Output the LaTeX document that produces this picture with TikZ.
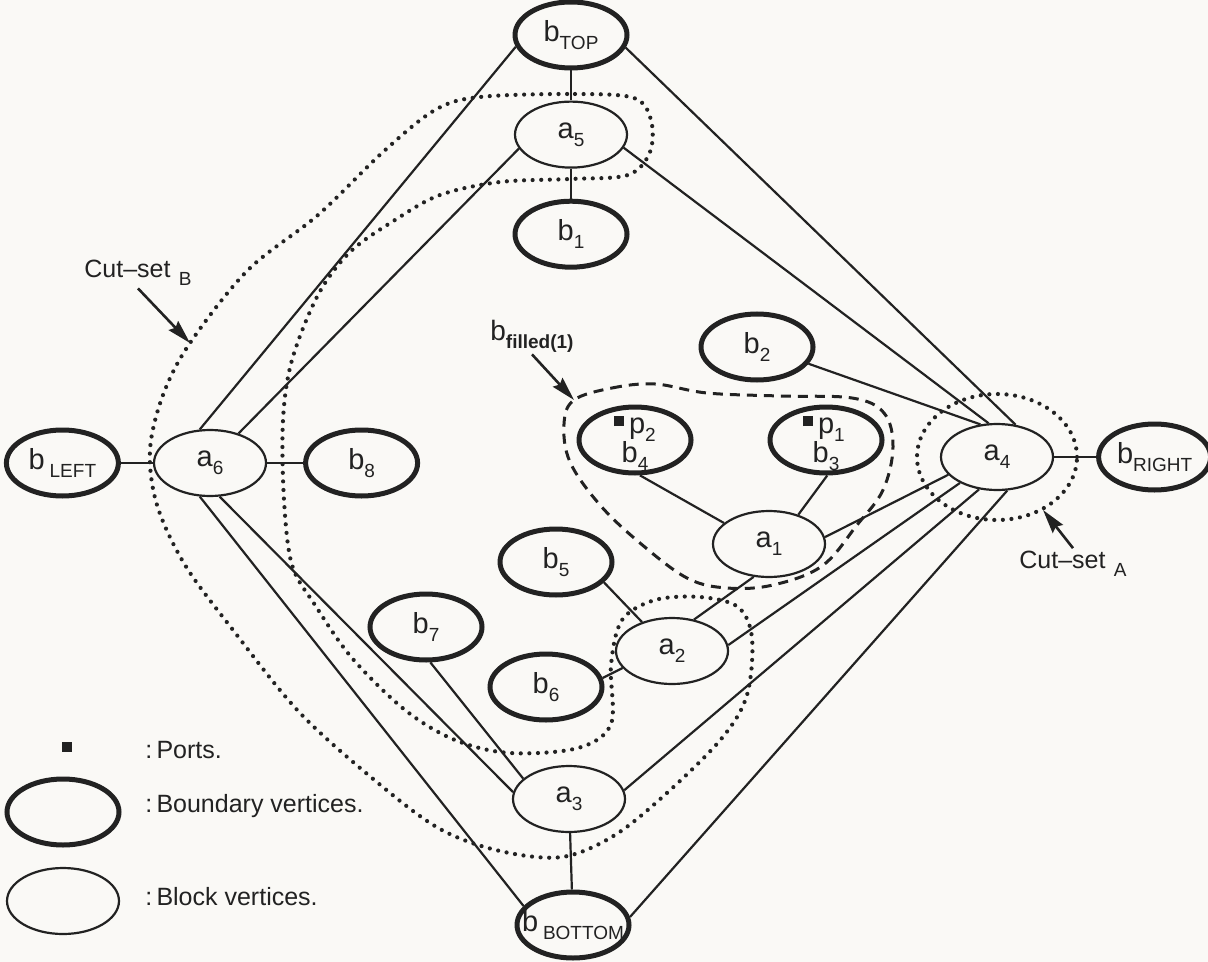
\documentclass[tikz,border=0pt]{standalone}
\usepackage{fontspec}
\setmainfont{Liberation Sans}
\usepackage{tikz}
\usetikzlibrary{arrows.meta, positioning, shapes.geometric}
\definecolor{Ink}{RGB}{34,34,34}
\definecolor{Paper}{RGB}{250,249,246}
\newcommand{\vsub}[1]{\raisebox{-4pt}{\fontsize{9.5}{11}\selectfont #1}}
\newcommand{\portmark}{\rule[3.5pt]{5pt}{5pt}}

\begin{document}
\begin{tikzpicture}[
  x=0.5pt, y=-0.5pt,
  node distance=15pt,
  every node/.style={font=\fontsize{14.5}{16}\selectfont, text=Ink},
  vert/.style={ellipse, draw=Ink, fill=Paper, minimum width=56pt,
               minimum height=33pt, inner sep=0pt},
  block/.style={vert, line width=1.1pt},
  bound/.style={vert, line width=2.5pt},
  edge/.style={draw=Ink, line width=1.1pt},
  cutdots/.style={draw=Ink, line width=2.1pt, line cap=round,
                  dash pattern=on 0pt off 4.3pt},
  filldash/.style={draw=Ink, line width=1.5pt, dash pattern=on 5pt off 3.5pt},
  pointer/.style={-{Stealth[length=12pt, width=6.5pt, inset=1.5pt]}, draw=Ink, line width=1.3pt},
  tag/.style={font=\fontsize{12.5}{14}\selectfont, inner sep=1pt}
]
\fill[Paper] (0,0) rectangle (1208,962);
\useasboundingbox (0,0) rectangle (1208,962);

% cut-set B: band from a5 down the left side to a2
\draw[cutdots] plot[smooth cycle, tension=0.55] coordinates {
  (480,97) (575,94) (634,98) (651,120) (650,152) (628,175) (570,179)
  (500,182) (440,195) (395,220) (350,252) (318,295) (292,360) (283,420)
  (284,500) (292,565) (315,605) (352,658) (405,710) (455,740) (510,753)
  (578,748) (611,724) (611,665) (622,620) (655,600) (700,597) (738,607)
  (752,638) (747,695) (722,738) (668,792) (615,835) (562,857) (500,851)
  (440,829) (378,783) (300,713) (233,630) (185,565) (157,505) (150,450)
  (163,395) (190,343) (248,270) (318,215) (383,152) (435,110)};
% filled block
\draw[filldash] plot[smooth cycle, tension=0.6] coordinates {
  (574,400) (612,388) (655,384) (707,393) (780,396) (852,398) (884,413)
  (893,447) (883,490) (857,525) (822,566) (773,585) (727,588) (687,578)
  (640,543) (600,505) (570,462) (564,424)};

\node[bound] (bTOP) at (571,35) {b\vsub{TOP}};
\node[block, below=of bTOP] (a5) {a\vsub{5}};
\node[bound, below=of a5] (b1) {b\vsub{1}};
\node[block] (a6) at (210,463) {a\vsub{6}};
\node[bound, left=16pt of a6] (bLEFT) {b\,\vsub{LEFT}};
\node[bound, right=18pt of a6] (b8) {b\vsub{8}};
\node[block] (a4) at (997,457) {a\vsub{4}};
\node[bound, right=21pt of a4] (bRIGHT) {b\vsub{RIGHT}};
\node[bound] (b2) at (757,347) {b\vsub{2}};
\node[bound, text height=22pt, text depth=0pt] (b4) at (635,440) {b\vsub{4}};
\node[bound, text height=22pt, text depth=0pt] (b3) at (826,440) {b\vsub{3}};
\node[anchor=base] (p2) at (635,433) {\portmark\,p\vsub{2}};
\node[anchor=base] (p1) at (824,433) {\portmark\,p\vsub{1}};
\node[block] (a1) at (769,544) {a\vsub{1}};
\node[bound] (b5) at (556,562) {b\vsub{5}};
\node[bound] (b7) at (426,627) {b\vsub{7}};
\node[block] (a2) at (672,651) {a\vsub{2}};
\node[bound] (b6) at (546,687) {b\vsub{6}};
\node[block] (a3) at (569,799) {a\vsub{3}};
\node[bound, inner xsep=-7pt] (bBOTTOM) at (573,925) {b\,\vsub{BOTTOM}};

\draw[edge] (bTOP) -- (a5);
\draw[edge] (a5) -- (b1);
\draw[edge] (bTOP.192) -- (a6.107);
\draw[edge] (a5.195) -- (a6.46);
\draw[edge] (bTOP.-13) -- (a4.60);
\draw[edge] (a5.-14) -- (a4.104);
\draw[edge] (b2.-18) -- (a4.117);
\draw[edge] (b4.-82) -- (a1.155);
\draw[edge] (b3.-88) -- (a1.45);
\draw[edge] (a1.7) -- (a4.200);
\draw[edge] (b5.-23) -- (a2.136);
\draw[edge] (b6.9) -- (a2.199);
\draw[edge] (a2.55) -- (a1.245);
\draw[edge] (a2.6) -- (a4.215);
\draw[edge] (a6.253) -- (bBOTTOM.159);
\draw[edge] (a6.286) -- (a3.173);
\draw[edge] (b7.-83) -- (a3.156);
\draw[edge] (a3) -- (bBOTTOM);
\draw[edge] (a3.9) -- (a4.241);
\draw[edge] (bBOTTOM.8) -- (a4.287);
\draw[edge] (bLEFT) -- (a6);
\draw[edge] (a6) -- (b8);
\draw[edge] (a4) -- (bRIGHT);

% cut-set A round a4
\draw[cutdots] (a4) ellipse [x radius=40pt, y radius=31.5pt];

\node[tag, anchor=base west] (cutB) at (82,278) {Cut--set\,\,\vsub{B}};
\node[tag, anchor=base west] (cutA) at (1017,568) {Cut--set\,\,\vsub{A}};
\node[tag, anchor=base west, font=\fontsize{14}{16}\selectfont] (bfill) at (488,340) {b\vsub{\bfseries filled(1)}};
\coordinate (cutBtip) at (190,343);
\coordinate (cutAtip) at (1043,510);
\coordinate (filltip) at (574,400);
\draw[pointer] (cutB.south) -- (cutBtip);
\draw[pointer] (cutA.north) -- (cutAtip);
\draw[pointer] (bfill.south) -- (filltip);

% key
\node[fill=Ink, minimum size=5pt, inner sep=0pt] (portkey) at (67,747) {};
\node[bound] (boundkey) at (63,812) {};
\node[block] (blockkey) at (63,901) {};
\node[tag, anchor=base west] (portnote) at (143,758) {:\,Ports.};
\node[tag, anchor=base west] (boundnote) at (143,812) {:\,Boundary vertices.};
\node[tag, anchor=base west] (blocknote) at (143,905) {:\,Block vertices.};
\end{tikzpicture}
\end{document}
